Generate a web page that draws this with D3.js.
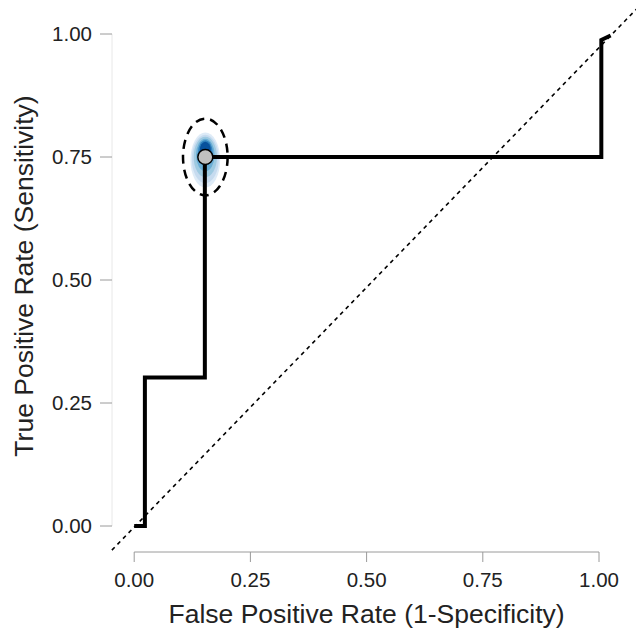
<!DOCTYPE html>
<html>
<head>
<meta charset="utf-8">
<script src="https://cdn.jsdelivr.net/npm/d3@7"></script>
<style>
  body { margin: 0; background: #fff; }
  text { font-family: "Liberation Sans", Arial, sans-serif; fill: #222; }
</style>
</head>
<body>
<div id="chart"></div>
<script>
// ROC step curve (fpr, tpr)
var rocFpr = [0, 0.023, 0.023, 0.152, 0.152, 1.005, 1.005, 1.025];
var rocTpr = [0, 0, 0.302, 0.302, 0.75, 0.75, 0.988, 0.997];

// optimal cut point
var cutFpr = 0.153;
var cutTpr = 0.75;

// confidence ellipse (half widths in data units)
var ellipseRx = 0.048;
var ellipseRy = 0.078;

// density contour levels around the cut point
var densityColors = ["#deebf7", "#c6dbef", "#9ecae1", "#6baed6", "#3182bd", "#08519c"];
var densityRx = [0.032, 0.029, 0.025, 0.02, 0.016, 0.012];
var densityRy = [0.056, 0.049, 0.041, 0.033, 0.026, 0.018];
var densityTpr = [0.744, 0.746, 0.75, 0.754, 0.758, 0.763];

// chance line
var diagFpr = [-0.048, 1.085];
var diagTpr = [-0.049, 1.055];

var ticks = [0, 0.25, 0.5, 0.75, 1];

var width = 636, height = 632;

var x = d3.scaleLinear().domain([0, 1]).range([134.2, 599]);
var y = d3.scaleLinear().domain([0, 1]).range([526, 34]);

var svg = d3.select("#chart").append("svg")
  .attr("width", width)
  .attr("height", height);

// axes (detached, R style)
var yAxisX = 112, xAxisY = 552;

svg.append("line")
  .attr("x1", yAxisX).attr("x2", yAxisX)
  .attr("y1", y(0)).attr("y2", y(1))
  .attr("stroke", "#e8e8e8").attr("stroke-width", 1);

svg.selectAll(".ytick").data(ticks).enter().append("line")
  .attr("x1", yAxisX - 12).attr("x2", yAxisX)
  .attr("y1", function(d) { return y(d); })
  .attr("y2", function(d) { return y(d); })
  .attr("stroke", "#9a9a9a").attr("stroke-width", 1);

svg.selectAll(".ylab").data(ticks).enter().append("text")
  .attr("x", 92)
  .attr("y", function(d) { return y(d); })
  .attr("dy", "0.35em")
  .attr("text-anchor", "end")
  .style("font-size", "20.5px")
  .text(function(d) { return d3.format(".2f")(d); });

svg.append("line")
  .attr("x1", x(0)).attr("x2", x(1))
  .attr("y1", xAxisY).attr("y2", xAxisY)
  .attr("stroke", "#9a9a9a").attr("stroke-width", 1);

svg.selectAll(".xtick").data(ticks).enter().append("line")
  .attr("x1", function(d) { return x(d); })
  .attr("x2", function(d) { return x(d); })
  .attr("y1", xAxisY).attr("y2", xAxisY + 10)
  .attr("stroke", "#9a9a9a").attr("stroke-width", 1);

svg.selectAll(".xlab").data(ticks).enter().append("text")
  .attr("x", function(d) { return x(d); })
  .attr("y", 587)
  .attr("text-anchor", "middle")
  .style("font-size", "20.5px")
  .text(function(d) { return d3.format(".2f")(d); });

// axis titles
svg.append("text")
  .attr("x", (x(0) + x(1)) / 2)
  .attr("y", 623)
  .attr("text-anchor", "middle")
  .style("font-size", "26.5px")
  .text("False Positive Rate (1-Specificity)");

svg.append("text")
  .attr("transform", "translate(33," + ((y(0) + y(1)) / 2 - 4) + ") rotate(-90)")
  .attr("text-anchor", "middle")
  .style("font-size", "26.5px")
  .text("True Positive Rate (Sensitivity)");

// chance diagonal
svg.append("line")
  .attr("x1", x(diagFpr[0])).attr("y1", y(diagTpr[0]))
  .attr("x2", x(diagFpr[1])).attr("y2", y(diagTpr[1]))
  .attr("stroke", "#000").attr("stroke-width", 1.6)
  .attr("stroke-dasharray", "4,4");

// density contours
var pxX = function(v) { return x(v) - x(0); };
var pxY = function(v) { return y(0) - y(v); };

svg.selectAll(".dens").data(densityColors).enter().append("ellipse")
  .attr("cx", x(cutFpr))
  .attr("cy", function(d, i) { return y(densityTpr[i]); })
  .attr("rx", function(d, i) { return pxX(densityRx[i]); })
  .attr("ry", function(d, i) { return pxY(densityRy[i]); })
  .attr("fill", function(d) { return d; });

// ROC curve
var line = d3.line()
  .x(function(d, i) { return x(rocFpr[i]); })
  .y(function(d, i) { return y(rocTpr[i]); });

svg.append("path")
  .datum(rocFpr)
  .attr("d", line)
  .attr("fill", "none")
  .attr("stroke", "#000")
  .attr("stroke-width", 4)
  .attr("stroke-linejoin", "miter");

// confidence ellipse
svg.append("ellipse")
  .attr("cx", x(cutFpr)).attr("cy", y(cutTpr))
  .attr("rx", pxX(ellipseRx)).attr("ry", pxY(ellipseRy))
  .attr("fill", "none")
  .attr("stroke", "#000").attr("stroke-width", 2.5)
  .attr("stroke-dasharray", "9,6");

// cut point
svg.append("circle")
  .attr("cx", x(cutFpr)).attr("cy", y(cutTpr))
  .attr("r", 7.5)
  .attr("fill", "#c0c0c0")
  .attr("stroke", "#000").attr("stroke-width", 1.5);
</script>
</body>
</html>
